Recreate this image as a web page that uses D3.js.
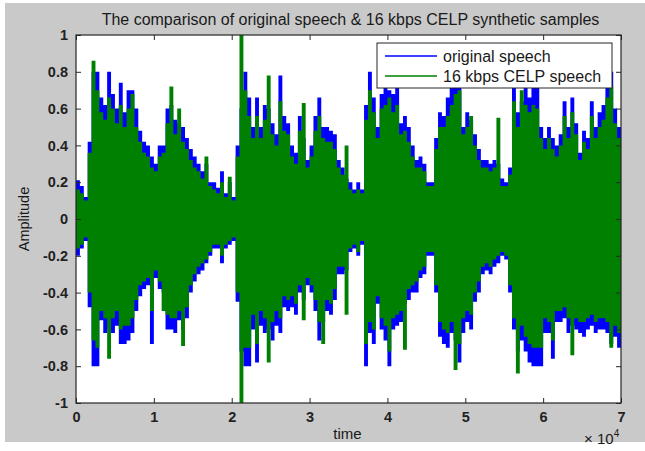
<!DOCTYPE html>
<html>
<head>
<meta charset="utf-8">
<script src="https://cdn.jsdelivr.net/npm/d3@7"></script>
<style>
  body { margin: 0; background: #ffffff; }
  text { font-family: Arial, "Liberation Sans", sans-serif; }
</style>
</head>
<body>
<svg id="drawing_region"></svg>
<script>
// envelope of each waveform, one value per block of 500 samples
const binSize = 500;
const origUpper = [
  0.21,0.18,0.12,0.42,0.8,0.8,0.66,0.62,0.8,0.68,
  0.6,0.74,0.58,0.7,0.7,0.6,0.48,0.42,0.4,0.34,
  0.3,0.4,0.4,0.6,0.62,0.54,0.52,0.5,0.44,0.38,
  0.34,0.3,0.26,0.3,0.2,0.2,
  0.17,0.26,0.14,0.2,0.12,0.4,0.6,0.8,0.66,0.5,
  0.66,0.5,0.62,0.6,0.52,0.46,0.78,0.56,0.52,0.4,
  0.36,0.56,0.44,0.32,0.4,0.56,0.66,0.5,0.5,0.48,
  0.46,0.32,0.28,0.22,
  0.2,0.16,0.2,0.16,0.62,0.8,0.66,0.5,0.68,0.72,
  0.7,0.68,0.72,0.52,0.56,0.5,0.4,0.32,0.34,0.3,
  0.2,0.2,0.44,0.58,0.56,0.66,0.72,0.78,0.8,0.5,
  0.58,0.54,0.46,0.38,0.32,
  0.32,0.3,0.32,0.3,0.22,0.2,0.28,0.76,0.58,0.64,
  0.72,0.66,0.72,0.72,0.5,0.44,0.5,0.44,0.4,0.46,
  0.64,0.5,0.66,0.52,0.36,0.48,0.44,0.64,0.5,0.58,
  0.62,0.76,0.8,0.6,0.5
];
const origLower = [
  -0.2,-0.16,-0.12,-0.48,-0.8,-0.8,-0.55,-0.62,-0.6,-0.62,
  -0.58,-0.68,-0.68,-0.66,-0.62,-0.5,-0.42,-0.38,-0.36,-0.68,
  -0.32,-0.38,-0.4,-0.6,-0.6,-0.62,-0.55,-0.6,-0.54,-0.4,
  -0.34,-0.3,-0.28,-0.24,-0.2,-0.16,
  -0.16,-0.24,-0.16,-0.14,-0.12,-0.45,-0.72,-0.8,-0.8,-0.6,
  -0.78,-0.58,-0.62,-0.6,-0.66,-0.58,-0.62,-0.48,-0.5,-0.48,
  -0.52,-0.4,-0.44,-0.36,-0.4,-0.5,-0.66,-0.56,-0.5,-0.52,
  -0.44,-0.3,-0.3,-0.28,
  -0.18,-0.16,-0.2,-0.14,-0.8,-0.62,-0.68,-0.46,-0.6,-0.66,
  -0.8,-0.6,-0.58,-0.56,-0.46,-0.44,-0.4,-0.4,-0.32,-0.3,
  -0.2,-0.2,-0.4,-0.64,-0.68,-0.7,-0.62,-0.66,-0.78,-0.62,
  -0.56,-0.6,-0.45,-0.4,-0.3,
  -0.28,-0.3,-0.26,-0.24,-0.2,-0.22,-0.4,-0.6,-0.72,-0.66,
  -0.72,-0.78,-0.8,-0.8,-0.8,-0.62,-0.62,-0.76,-0.56,-0.56,
  -0.54,-0.62,-0.58,-0.6,-0.62,-0.64,-0.6,-0.58,-0.62,-0.6,
  -0.6,-0.62,-0.68,-0.64,-0.7
];
const celpUpper = [
  0.16,0.14,0.1,0.36,0.86,0.7,0.58,0.54,0.66,0.6,
  0.52,0.62,0.5,0.6,0.68,0.5,0.42,0.36,0.34,0.28,
  0.26,0.34,0.36,0.52,0.72,0.46,0.6,0.42,0.38,0.32,
  0.28,0.26,0.22,0.34,0.18,0.16,
  0.14,0.2,0.12,0.23,0.1,0.34,1.0,0.7,0.56,0.44,
  0.56,0.44,0.54,0.78,0.46,0.4,0.64,0.48,0.46,0.34,
  0.3,0.48,0.63,0.28,0.34,0.48,0.56,0.44,0.42,0.42,
  0.38,0.28,0.24,0.4,
  0.16,0.14,0.16,0.14,0.54,0.7,0.58,0.44,0.6,0.62,
  0.66,0.58,0.62,0.46,0.48,0.42,0.34,0.28,0.28,0.26,
  0.18,0.18,0.38,0.5,0.5,0.56,0.62,0.68,0.7,0.46,
  0.5,0.56,0.4,0.32,0.28,
  0.28,0.26,0.28,0.55,0.18,0.18,0.24,0.64,0.5,0.7,
  0.62,0.58,0.62,0.6,0.44,0.38,0.44,0.38,0.34,0.4,
  0.56,0.44,0.58,0.46,0.32,0.42,0.38,0.56,0.44,0.5,
  0.54,0.66,0.72,0.52,0.44
];
const celpLower = [
  -0.16,-0.14,-0.1,-0.4,-0.66,-0.7,-0.5,-0.54,-0.76,-0.54,
  -0.5,-0.6,-0.58,-0.58,-0.54,-0.44,-0.36,-0.34,-0.32,-0.5,
  -0.28,-0.34,-0.5,-0.52,-0.54,-0.54,-0.5,-0.69,-0.48,-0.36,
  -0.3,-0.26,-0.24,-0.22,-0.18,-0.14,
  -0.14,-0.2,-0.14,-0.12,-0.1,-0.4,-1.0,-0.7,-0.7,-0.52,
  -0.68,-0.5,-0.54,-0.78,-0.56,-0.5,-0.54,-0.42,-0.44,-0.42,
  -0.46,-0.36,-0.55,-0.32,-0.36,-0.44,-0.56,-0.68,-0.44,-0.46,
  -0.38,-0.26,-0.26,-0.52,
  -0.16,-0.14,-0.18,-0.12,-0.68,-0.56,-0.6,-0.42,-0.54,-0.58,
  -0.72,-0.54,-0.52,-0.5,-0.71,-0.38,-0.36,-0.34,-0.28,-0.26,
  -0.18,-0.18,-0.36,-0.56,-0.6,-0.62,-0.56,-0.82,-0.68,-0.54,
  -0.5,-0.52,-0.4,-0.34,-0.26,
  -0.24,-0.26,-0.22,-0.2,-0.18,-0.2,-0.36,-0.54,-0.84,-0.58,
  -0.64,-0.68,-0.7,-0.7,-0.7,-0.54,-0.56,-0.66,-0.5,-0.5,
  -0.48,-0.54,-0.74,-0.54,-0.56,-0.56,-0.54,-0.52,-0.56,-0.54,
  -0.54,-0.56,-0.7,-0.58,-0.62
];
const xTicks = [0, 10000, 20000, 30000, 40000, 50000, 60000, 70000];
const yTicks = [-1, -0.8, -0.6, -0.4, -0.2, 0, 0.2, 0.4, 0.6, 0.8, 1];
const seriesNames = ['original speech', '16 kbps CELP speech'];
const seriesColors = ['#0000ff', '#008000'];
const title = 'The comparison of original speech & 16 kbps CELP synthetic samples';

const W = 645, H = 451;
const margin = {top: 35, right: 24, bottom: 48, left: 76};
const iw = W - margin.left - margin.right;
const ih = H - margin.top - margin.bottom;

const svg = d3.select('#drawing_region')
    .attr('width', W)
    .attr('height', H);

// figure background
svg.append('rect')
    .attr('x', 5).attr('y', 3)
    .attr('width', W - 5).attr('height', 439)
    .attr('fill', '#c9c9c9');

const chart = svg.append('g')
    .attr('transform', `translate(${margin.left}, ${margin.top})`);

const xscale = d3.scaleLinear().domain([0, 70000]).range([0, iw]);
const yscale = d3.scaleLinear().domain([-1, 1]).range([ih, 0]);

chart.append('rect')
    .attr('width', iw).attr('height', ih)
    .attr('fill', '#ffffff');

chart.append('clipPath').attr('id', 'clip')
  .append('rect').attr('width', iw).attr('height', ih);

const toBins = (up, lo) => {
    const pts = up.map((v, i) => ({t: i * binSize, hi: v, lo: lo[i]}));
    const last = pts[pts.length - 1];
    pts.push({t: up.length * binSize, hi: last.hi, lo: last.lo});
    return pts;
};

const area = d3.area()
    .curve(d3.curveStepAfter)
    .x(d => xscale(d.t))
    .y0(d => yscale(d.lo))
    .y1(d => yscale(d.hi));

const plot = chart.append('g').attr('clip-path', 'url(#clip)');
plot.append('path')
    .attr('d', area(toBins(origUpper, origLower)))
    .attr('fill', seriesColors[0]);
plot.append('path')
    .attr('d', area(toBins(celpUpper, celpLower)))
    .attr('fill', seriesColors[1]);

// axes (matlab style: ticks inside on all four sides)
const axColor = '#262626';
const tickLen = 5;

const xaxis = d3.axisBottom(xscale).tickValues(xTicks)
    .tickSize(-tickLen).tickSizeOuter(0)
    .tickFormat(d => d / 10000).tickPadding(9);
const yaxis = d3.axisLeft(yscale).tickValues(yTicks)
    .tickSize(-tickLen).tickSizeOuter(0)
    .tickFormat(d => d).tickPadding(7);

const gx = chart.append('g').attr('transform', `translate(0, ${ih})`).call(xaxis);
const gy = chart.append('g').call(yaxis);
chart.append('g').call(d3.axisTop(xscale).tickValues(xTicks).tickSize(-tickLen).tickSizeOuter(0).tickFormat(''));
chart.append('g').attr('transform', `translate(${iw}, 0)`)
    .call(d3.axisRight(yscale).tickValues(yTicks).tickSize(-tickLen).tickSizeOuter(0).tickFormat(''));

chart.selectAll('.domain').remove();
chart.selectAll('.tick line').attr('stroke', axColor);
chart.selectAll('.tick text')
    .attr('fill', '#222')
    .attr('font-size', 14.5)
    .attr('font-weight', 'bold');
gy.selectAll('.tick text').attr('dx', '-1');

chart.append('rect')
    .attr('width', iw).attr('height', ih)
    .attr('fill', 'none')
    .attr('stroke', axColor)
    .attr('stroke-width', 1.2);

// labels
svg.append('text')
    .attr('x', margin.left + iw / 2 + 2).attr('y', 25)
    .attr('text-anchor', 'middle')
    .attr('font-size', 16).attr('fill', '#1a1a1a')
    .text(title);

svg.append('text')
    .attr('x', margin.left + iw / 2 - 1).attr('y', 439)
    .attr('text-anchor', 'middle')
    .attr('font-size', 15).attr('fill', '#1a1a1a')
    .text('time');

svg.append('text')
    .attr('transform', `translate(29, ${margin.top + ih / 2}) rotate(-90)`)
    .attr('text-anchor', 'middle')
    .attr('font-size', 14.5).attr('fill', '#1a1a1a')
    .text('Amplitude');

const expo = svg.append('text')
    .attr('x', 584).attr('y', 444)
    .attr('font-size', 15).attr('fill', '#1a1a1a');
expo.append('tspan').text('\u00d7 10');
expo.append('tspan').attr('dy', -7).attr('font-size', 10).text('4');

// legend
const leg = svg.append('g').attr('transform', 'translate(377, 43)');
leg.append('rect')
    .attr('width', 235).attr('height', 45)
    .attr('fill', '#ffffff')
    .attr('stroke', axColor);
seriesNames.forEach((name, i) => {
    const y = 13 + i * 20;
    leg.append('line')
        .attr('x1', 8).attr('x2', 60)
        .attr('y1', y).attr('y2', y)
        .attr('stroke', seriesColors[i]).attr('stroke-width', 1.3);
    leg.append('text')
        .attr('x', 66).attr('y', y + 5.5)
        .attr('font-size', 16).attr('fill', '#1a1a1a')
        .text(name);
});
</script>
</body>
</html>
